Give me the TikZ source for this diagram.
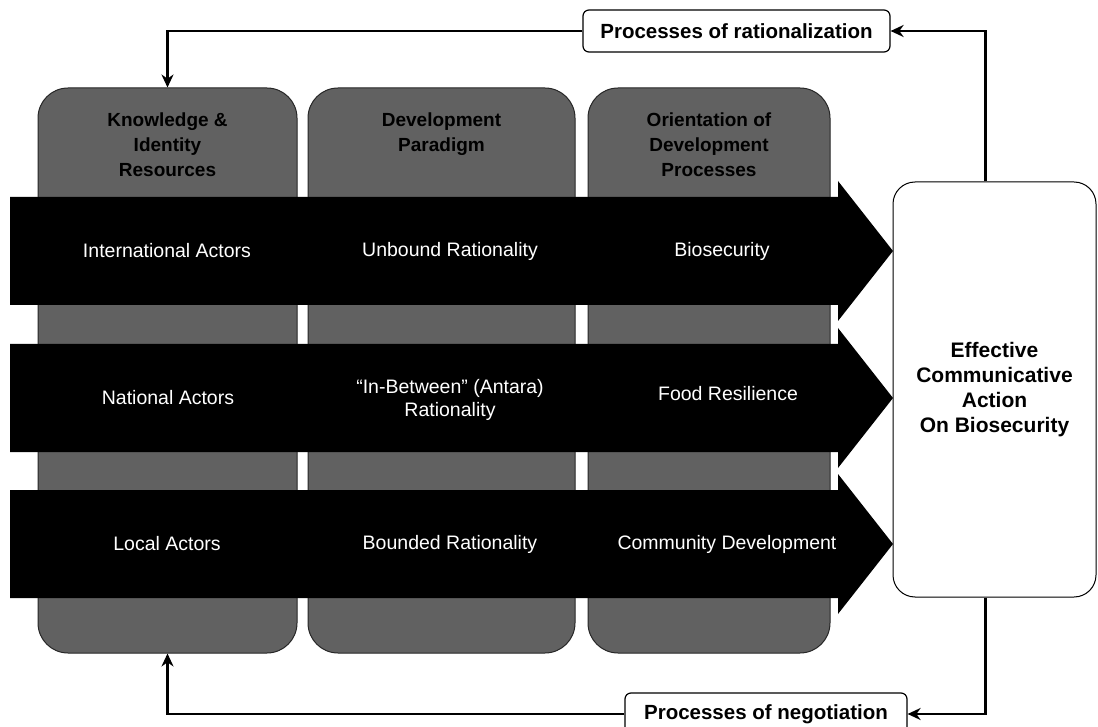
\documentclass[tikz,border=0pt]{standalone}
\usepackage{fontspec}
\setmainfont{Liberation Sans}
\usetikzlibrary{positioning, arrows.meta}

\tikzset{
  colbox/.style={draw=black!85, line width=1pt, fill=black!62, rounded corners=30pt, minimum height=565pt},
  headtext/.style={align=center, text=black, font=\bfseries\fontsize{19}{25}\selectfont},
  rowtext/.style={align=center, text=white, font=\fontsize{19.5}{23}\selectfont},
  procbox/.style={draw, line width=1.2pt, rounded corners=6pt, fill=white, minimum height=42pt, font=\bfseries\fontsize{20.5}{24}\selectfont},
  goalbox/.style={draw, line width=1pt, rounded corners=22pt, fill=white, minimum width=203pt, minimum height=415pt, align=center, font=\bfseries\fontsize{21}{25}\selectfont},
  blockarrow/.style={fill=black},
  flow/.style={line width=2.5pt, -{Stealth[length=13pt, width=12pt]}}
}

\begin{document}
\begin{tikzpicture}[x=1pt, y=-1pt]
    \clip (0,0) rectangle (1098,727);

    % the three columns
    \node[colbox, minimum width=259pt] (knowcol) at (167.5,370.5) {};
    \node[colbox, minimum width=267pt] (paracol) at (441.5,370.5) {};
    \node[colbox, minimum width=242pt] (orientcol) at (709,370.5) {};

    \node[headtext, below=22pt of knowcol.north] (knowhead) {Knowledge \&\\Identity\\Resources};
    \node[headtext, below=22pt of paracol.north] (parahead) {Development\\Paradigm};
    \node[headtext, below=22pt of orientcol.north] (orienthead) {Orientation of\\Development\\Processes};

    % black block arrows
    \foreach \yy in {251, 398, 544} {
        \fill[blockarrow] (10,\yy-54) -- (838,\yy-54) -- (838,\yy-70) -- (893,\yy)
            -- (838,\yy+70) -- (838,\yy+54) -- (10,\yy+54) -- cycle;
    }

    \node[rowtext] (intl) at (167,251) {International Actors};
    \node[rowtext] (unbound) at (450,251) {Unbound Rationality};
    \node[rowtext] (biosec) at (722,251) {Biosecurity};

    \node[rowtext] (natl) at (168,398) {National Actors};
    \node[rowtext] (inbetween) at (450,400) {“In-Between” (Antara)\\Rationality};
    \node[rowtext] (foodres) at (728,394) {Food Resilience};

    \node[rowtext] (locl) at (167,544) {Local Actors};
    \node[rowtext] (bounded) at (450,544) {Bounded Rationality};
    \node[rowtext] (commdev) at (727,544) {Community Development};

    % goal and processes
    \node[goalbox] (action) at (994.5,389.5) {Effective\\Communicative\\Action\\On Biosecurity};
    \node[procbox, minimum width=307pt] (ratbox) at (736.5,31) {Processes of rationalization};
    \node[procbox, minimum width=282pt] (negbox) at (766,714) {Processes of negotiation};

    \draw[flow] ([xshift=-9pt]action.north) |- (ratbox.east);
    \draw[flow] (ratbox.west) -| (knowcol.north);
    \draw[flow] ([xshift=-9pt]action.south) |- (negbox.east);
    \draw[flow] (negbox.west) -| (knowcol.south);
\end{tikzpicture}
\end{document}
